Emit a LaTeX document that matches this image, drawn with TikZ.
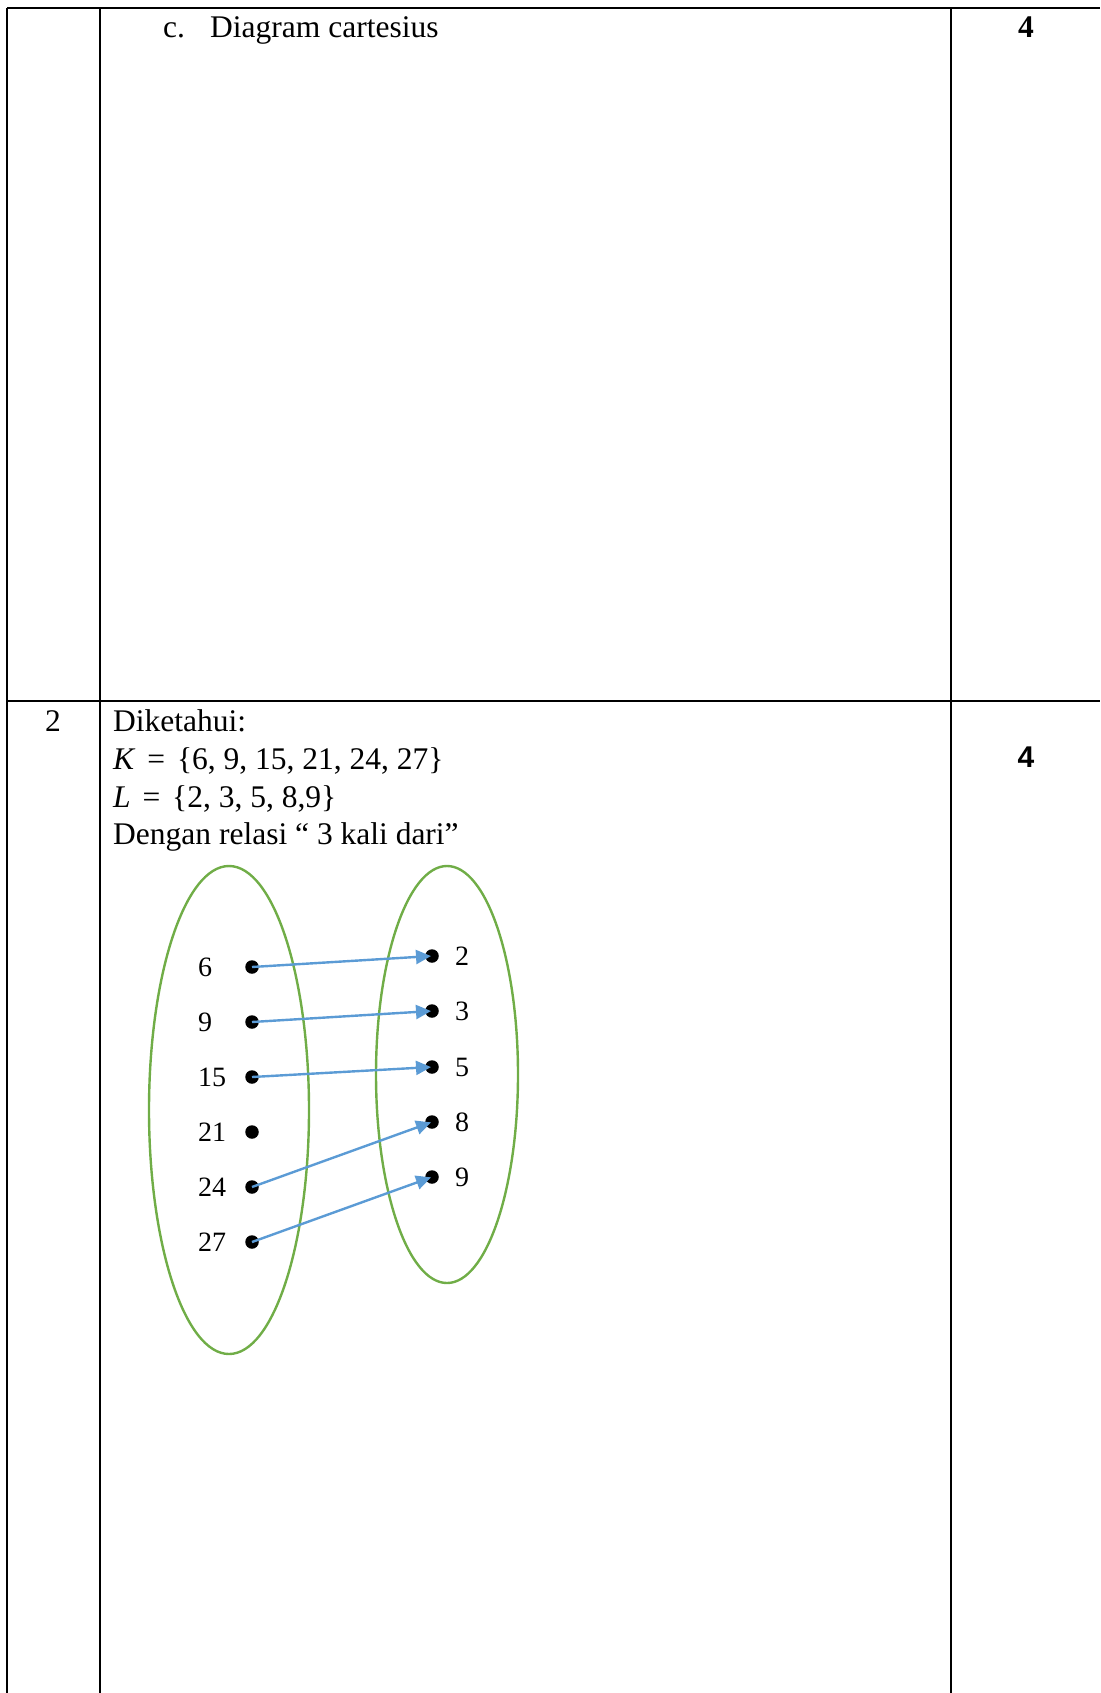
\documentclass[tikz,border=0pt]{standalone}
\usepackage{fontspec}
\setmainfont{Liberation Serif}
\newfontfamily\arialf{Liberation Sans}
\usetikzlibrary{arrows.meta}
\definecolor{ellgreen}{HTML}{70AD47}
\definecolor{arrblue}{HTML}{5B9BD5}
\tikzset{
  rule/.style={line width=2pt, black},
  txt/.style={anchor=base west, inner sep=0pt, font=\fontsize{31.5}{38}\selectfont},
  num/.style={anchor=west, inner sep=0pt, font=\fontsize{28}{34}\selectfont},
  dotn/.style={circle, fill=black, inner sep=0pt, minimum size=13.5pt},
  setell/.style={draw=ellgreen, line width=2.4pt},
  rel/.style={draw=arrblue, line width=2.4pt, -{Triangle[length=15pt,width=14pt]}, shorten >=1pt},
}
\begin{document}
\begin{tikzpicture}[x=1pt,y=-1pt]
\useasboundingbox (0,0) rectangle (1100,1693);
% table rules
\coordinate (tl) at (7,8);
\coordinate (tr) at (1100,8);
\coordinate (ml) at (7,701);
\coordinate (mr) at (1100,701);
\coordinate (v1t) at (7,8);
\coordinate (v1b) at (7,1693);
\coordinate (v2t) at (100,8);
\coordinate (v2b) at (100,1693);
\coordinate (v3t) at (951,8);
\coordinate (v3b) at (951,1693);
\draw[rule] (tl) -- (tr);
\draw[rule] (ml) -- (mr);
\draw[rule] (v1t) -- (v1b);
\draw[rule] (v2t) -- (v2b);
\draw[rule] (v3t) -- (v3b);
% row 1
\node[txt] (c) at (163,38) {c.};
\node[txt] (cdiag) at (210,38) {Diagram cartesius};
\node[txt, anchor=base, font=\fontsize{31.5}{38}\selectfont\bfseries] (s1) at (1026,38) {4};
% row 2
\node[txt, anchor=base] (n2) at (53,731) {2};
\node[txt] (dik) at (113,731) {Diketahui:};
\node[txt] (kset) at (113,769) {\textit{K}\hspace{4pt} =\hspace{4pt} \{6, 9, 15, 21, 24, 27\}};
\node[txt] (lset) at (113,807) {\textit{L}\hspace{4pt} =\hspace{4pt} \{2, 3, 5, 8,9\}};
\node[txt] (rel) at (113,844) {Dengan relasi “ 3 kali dari”};
\node[txt, anchor=base, font=\fontsize{30}{36}\selectfont\arialf\bfseries] (s2) at (1026,767) {4};
% sets
\draw[setell] (229,1110) ellipse [x radius=80, y radius=244];
\draw[setell] (447,1074.5) ellipse [x radius=71, y radius=208.5];
% left dots
\node[dotn] (a6) at (252,967) {};
\node[dotn] (a9) at (252,1022) {};
\node[dotn] (a15) at (252,1077) {};
\node[dotn] (a21) at (252,1132) {};
\node[dotn] (a24) at (252,1187) {};
\node[dotn] (a27) at (252,1242) {};
\node[num] (la6) at (198,967) {6};
\node[num] (la9) at (198,1022) {9};
\node[num] (la15) at (198,1077) {15};
\node[num] (la21) at (198,1132) {21};
\node[num] (la24) at (198,1187) {24};
\node[num] (la27) at (198,1242) {27};
% right dots
\node[dotn] (b2) at (432,956) {};
\node[dotn] (b3) at (432,1011) {};
\node[dotn] (b5) at (432,1067) {};
\node[dotn] (b8) at (432,1122) {};
\node[dotn] (b9) at (432,1177) {};
\node[num] (lb2) at (455,956) {2};
\node[num] (lb3) at (455,1011) {3};
\node[num] (lb5) at (455,1067) {5};
\node[num] (lb8) at (455,1122) {8};
\node[num] (lb9) at (455,1177) {9};
% relation arrows
\draw[rel] (a6.center) -- (b2.center);
\draw[rel] (a9.center) -- (b3.center);
\draw[rel] (a15.center) -- (b5.center);
\draw[rel] (a24.center) -- (b8.center);
\draw[rel] (a27.center) -- (b9.center);
\end{tikzpicture}
\end{document}
